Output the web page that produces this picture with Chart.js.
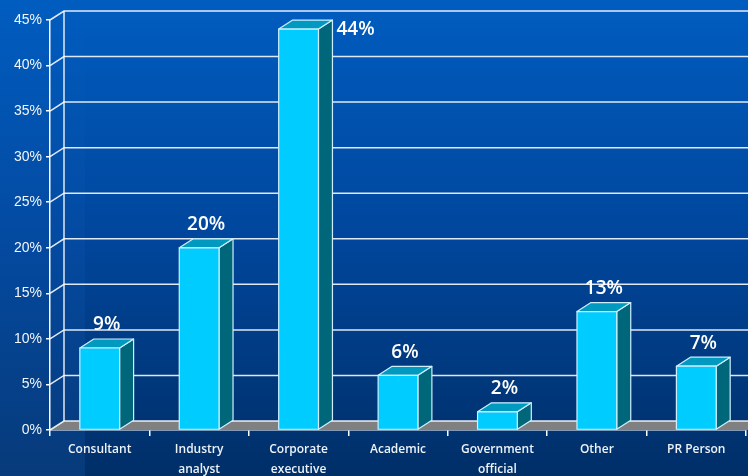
<!DOCTYPE html>
<html>
<head>
<meta charset="utf-8">
<script src="https://cdn.jsdelivr.net/npm/chart.js@4/dist/chart.umd.min.js"></script>
<style>
  html, body { margin: 0; padding: 0; background: #003a80; }
  #wrap { width: 748px; height: 476px; }
</style>
</head>
<body>
<div id="wrap"><canvas id="c" width="748" height="476"></canvas></div>
<script>
// Respondent roles and their share of responses (%)
const categories = [
  ['Consultant'],
  ['Industry', 'analyst'],
  ['Corporate', 'executive'],
  ['Academic'],
  ['Government', 'official'],
  ['Other'],
  ['PR Person']
];
const shares = [9, 20, 44, 6, 2, 13, 7];
const valueLabels = ['9%', '20%', '44%', '6%', '2%', '13%', '7%'];
const yMax = 45;
const yStep = 5;

// Depth of the pseudo-3D box
const DX = 14, DY = 9;

const colors = {
  front: '#00ccff',
  top: '#0099bf',
  side: '#00667a',
  edge: '#cfefff',
  floor: '#808080',
  grid: 'rgba(255,255,255,0.88)'
};

const box3d = {
  id: 'box3d',
  beforeDraw(chart) {
    const { ctx, width, height } = chart;
    ctx.save();
    const g = ctx.createLinearGradient(0, 0, 0, height);
    g.addColorStop(0, '#005dc0');
    g.addColorStop(0.5, '#00469c');
    g.addColorStop(1, '#002f68');
    ctx.fillStyle = g;
    ctx.fillRect(0, 0, width, height);
    // lighter band down the left edge
    const b = ctx.createLinearGradient(0, 0, 0, height);
    b.addColorStop(0, 'rgba(40,120,220,0)');
    b.addColorStop(1, 'rgba(40,120,220,0.16)');
    ctx.fillStyle = b;
    ctx.fillRect(0, 0, 85, height);
    ctx.restore();
  },
  beforeDatasetsDraw(chart) {
    const { ctx, chartArea, scales } = chart;
    const y = scales.y;
    const W = chart.width;
    const left = chartArea.left;
    const y0 = y.getPixelForValue(0);
    const yTop = y.getPixelForValue(yMax);
    ctx.save();
    // floor
    ctx.fillStyle = colors.floor;
    ctx.beginPath();
    ctx.moveTo(left, y0);
    ctx.lineTo(W, y0);
    ctx.lineTo(W, y0 - DY);
    ctx.lineTo(left + DX, y0 - DY);
    ctx.closePath();
    ctx.fill();
    // back wall grid
    ctx.strokeStyle = colors.grid;
    ctx.lineWidth = 1.5;
    for (let v = 0; v <= yMax; v += yStep) {
      const yf = y.getPixelForValue(v);
      ctx.beginPath();
      ctx.moveTo(left, yf);
      ctx.lineTo(left + DX, yf - DY);
      ctx.lineTo(W, yf - DY);
      ctx.stroke();
    }
    ctx.beginPath();
    ctx.moveTo(left + DX, yTop - DY);
    ctx.lineTo(left + DX, y0 - DY);
    ctx.stroke();
    ctx.restore();
  },
  afterDatasetsDraw(chart) {
    const { ctx } = chart;
    const meta = chart.getDatasetMeta(0);
    ctx.save();
    ctx.lineJoin = 'round';
    meta.data.forEach((bar, i) => {
      const { x, y, base, width } = bar.getProps(['x', 'y', 'base', 'width'], true);
      const x0 = x - width / 2, x1 = x + width / 2;
      ctx.lineWidth = 1.2;
      ctx.strokeStyle = colors.edge;
      // side
      ctx.fillStyle = colors.side;
      ctx.beginPath();
      ctx.moveTo(x1, y);
      ctx.lineTo(x1 + DX, y - DY);
      ctx.lineTo(x1 + DX, base - DY);
      ctx.lineTo(x1, base);
      ctx.closePath();
      ctx.fill();
      ctx.stroke();
      // top
      ctx.fillStyle = colors.top;
      ctx.beginPath();
      ctx.moveTo(x0, y);
      ctx.lineTo(x0 + DX, y - DY);
      ctx.lineTo(x1 + DX, y - DY);
      ctx.lineTo(x1, y);
      ctx.closePath();
      ctx.fill();
      ctx.stroke();
      // front
      ctx.fillStyle = colors.front;
      ctx.fillRect(x0, y, width, base - y);
      ctx.strokeRect(x0, y, width, base - y);

      // value label
      ctx.fillStyle = '#ffffff';
      ctx.font = '600 19px "Open Sans", sans-serif';
      ctx.textBaseline = 'middle';
      if (y - DY - 24 < 0) {
        ctx.textAlign = 'left';
        ctx.fillText(valueLabels[i], x1 + DX + 4, y);
      } else {
        ctx.textAlign = 'center';
        ctx.fillText(valueLabels[i], x + DX / 2, y - DY - 14);
      }
    });
    ctx.restore();
  }
};

new Chart(document.getElementById('c'), {
  type: 'bar',
  data: {
    labels: categories,
    datasets: [{
      data: shares,
      backgroundColor: 'rgba(0,0,0,0)',
      borderWidth: 0,
      barPercentage: 0.4,
      categoryPercentage: 1.0
    }]
  },
  options: {
    responsive: false,
    devicePixelRatio: 1,
    animation: false,
    layout: { padding: { top: 20, right: 2, left: 0, bottom: 0 } },
    plugins: {
      legend: { display: false },
      tooltip: { enabled: false }
    },
    scales: {
      x: {
        z: 1,
        afterFit(scale) { scale.height = 46; },
        grid: {
          display: true,
          offset: true,
          drawOnChartArea: false,
          drawTicks: true,
          tickLength: 6,
          color: '#ffffff',
          lineWidth: 1.5
        },
        border: { display: true, color: '#ffffff', width: 1.5 },
        ticks: {
          color: '#eef3f8',
          padding: 4,
          maxRotation: 0,
          autoSkip: false,
          font: { family: '"Open Sans", sans-serif', size: 12, weight: '600', lineHeight: 1.65 }
        }
      },
      y: {
        z: 1,
        min: 0,
        max: yMax,
        afterFit(scale) { scale.width = 50; },
        grid: {
          display: true,
          drawOnChartArea: false,
          drawTicks: true,
          tickLength: 4,
          color: '#ffffff',
          lineWidth: 1.5
        },
        border: { display: true, color: '#ffffff', width: 1.5 },
        ticks: {
          stepSize: yStep,
          color: '#f2f6fa',
          padding: 4,
          font: { family: '"Liberation Sans", Arial, sans-serif', size: 14 },
          callback: v => v + '%'
        }
      }
    }
  },
  plugins: [box3d]
});
</script>
</body>
</html>
